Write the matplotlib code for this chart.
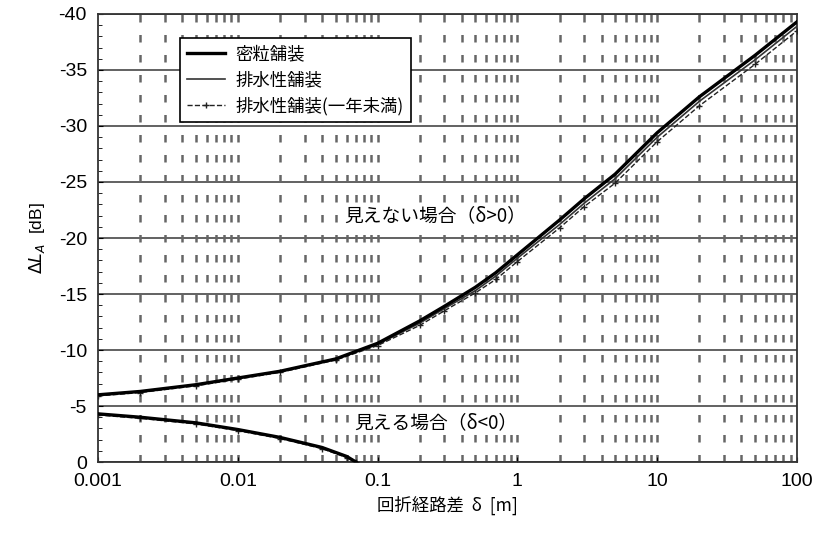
import numpy as np
import matplotlib
matplotlib.use("Agg")
import matplotlib.pyplot as plt
from matplotlib.ticker import FixedLocator, MultipleLocator, LogLocator, NullFormatter, FuncFormatter

plt.rcParams['font.family'] = ['Liberation Sans', 'Noto Sans CJK JP', 'DejaVu Sans']
jp = ['Noto Sans CJK JP', 'DejaVu Sans']

# δ > 0 (見えない場合)
delta_pos = [0.001, 0.002, 0.005, 0.01, 0.02, 0.05, 0.1, 0.2, 0.3, 0.5, 0.7, 1, 2, 3, 5, 10, 20, 50, 100]
dense_pos = [-6.0, -6.3, -6.9, -7.5, -8.1, -9.2, -10.6, -12.6, -13.9, -15.6, -16.9, -18.5, -21.6, -23.5,
             -25.7, -29.4, -32.6, -36.3, -39.3]
drain_pos = [-6.0, -6.3, -6.9, -7.5, -8.1, -9.2, -10.5, -12.4, -13.7, -15.3, -16.6, -18.2, -21.2, -23.1,
             -25.3, -29.0, -32.2, -35.9, -38.9]
drain_new_pos = [-5.9, -6.2, -6.8, -7.4, -8.0, -9.1, -10.4, -12.2, -13.5, -15.1, -16.3, -17.9, -20.9, -22.8,
                 -24.9, -28.6, -31.8, -35.5, -38.5]

# δ < 0 (見える場合)
delta_neg = [0.001, 0.002, 0.005, 0.01, 0.02, 0.04, 0.06, 0.07]
dense_neg = [-4.3, -4.0, -3.5, -2.9, -2.2, -1.3, -0.5, 0.0]
drain_neg = [-4.3, -4.0, -3.5, -2.9, -2.2, -1.3, -0.5, 0.0]
drain_new_neg = [-4.2, -3.9, -3.4, -2.8, -2.1, -1.2, -0.4, 0.0]

labels = ['密粒舗装', '排水性舗装', '排水性舗装(一年未満)']

fig = plt.figure(figsize=(8.21, 5.46), dpi=100)
ax = fig.add_axes([0.1194, 0.1538, 0.8514, 0.8206])

# grid
for v in range(-40, 1, 5):
    ax.axhline(v, color='#555555', lw=1.3, zorder=1)
vx = [m * 10.0 ** e for e in range(-3, 2) for m in range(1, 10)][1:]
for v in vx:
    ax.axvline(v, color='#666666', lw=1.8, ls=(0, (3, 5)), zorder=1)

ax.plot(delta_pos, dense_pos, color='black', lw=2.4, label=labels[0], zorder=4)
ax.plot(delta_pos, drain_pos, color='#333333', lw=1.2, label=labels[1], zorder=3)
ax.plot(delta_pos, drain_new_pos, color='#222222', lw=1.0, ls='--',
        marker='+', ms=4, label=labels[2], zorder=3)
ax.plot(delta_neg, dense_neg, color='black', lw=2.4, zorder=4)
ax.plot(delta_neg, drain_neg, color='#333333', lw=1.2, zorder=3)
ax.plot(delta_neg, drain_new_neg, color='#222222', lw=1.0, ls='--', marker='+', ms=4, zorder=3)

ax.set_xscale('log')
ax.set_xlim(0.001, 100)
ax.set_ylim(0, -40)
ax.xaxis.set_major_locator(FixedLocator([0.001, 0.01, 0.1, 1, 10, 100]))
ax.xaxis.set_major_formatter(FuncFormatter(lambda v, p: f'{v:g}'))
ax.xaxis.set_minor_locator(LogLocator(base=10, subs=range(2, 10)))
ax.xaxis.set_minor_formatter(NullFormatter())
ax.yaxis.set_major_locator(MultipleLocator(5))
ax.yaxis.set_minor_locator(MultipleLocator(1))
ax.yaxis.set_major_formatter(FuncFormatter(lambda v, p: f'{int(round(v))}'))
ax.tick_params(axis='both', which='both', direction='in', labelsize=14, pad=8)
ax.tick_params(axis='x', which='minor', length=0)
ax.tick_params(axis='y', which='minor', length=3)
for s in ax.spines.values():
    s.set_linewidth(1.3)
    s.set_color('#333333')

ax.set_xlabel('回折経路差  δ  [m]', fontsize=12.5, family=jp, labelpad=4)
ax.set_ylabel('$\\Delta L_A$  [dB]', fontsize=12.5, labelpad=8)

box = dict(facecolor='white', edgecolor='none', pad=1.5)
ax.text(0.26, -22.0, '見えない場合（δ>0）', fontsize=13.5, family=jp,
        ha='center', va='center', zorder=2, bbox=box)
ax.text(0.26, -3.5, '見える場合（δ<0）', fontsize=13.5, family=jp,
        ha='center', va='center', zorder=2, bbox=box)

leg = ax.legend(loc='upper left', bbox_to_anchor=(0.105, 0.965), prop={'family': jp, 'size': 12.5},
                fancybox=False, framealpha=1, edgecolor='black', handlelength=2.2,
                borderpad=0.4, labelspacing=0.45, handletextpad=0.6)
leg.get_frame().set_linewidth(1.2)

fig.savefig('out.png', dpi=100)
